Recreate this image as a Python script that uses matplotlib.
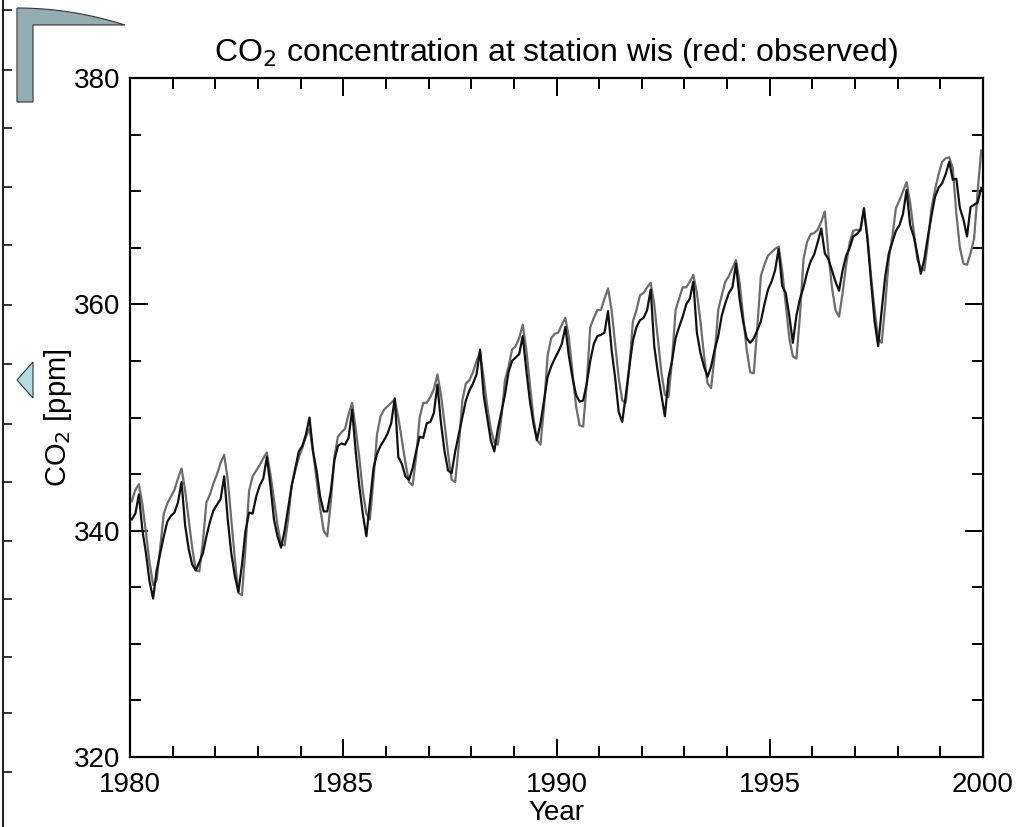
# CO2 at station wis: model (black) vs observed (grey), monthly 1980-1999
import matplotlib.pyplot as plt
import numpy as np
from matplotlib.patches import Polygon
from matplotlib.lines import Line2D
from matplotlib.ticker import MultipleLocator

plt.rcParams['font.family'] = ['Liberation Sans', 'DejaVu Sans']

years = list(range(1980, 2000))

# observed (drawn grey), 12 monthly values per year
obs = [
    [342.6, 343.6, 344.1, 342.3, 339.8, 337.2, 335.2, 335.6, 338.5, 341.5, 342.4, 343.0],
    [343.6, 344.6, 345.5, 343.6, 341.0, 338.5, 336.5, 336.4, 339.0, 342.5, 343.2, 344.2],
    [345.0, 346.0, 346.7, 344.5, 341.0, 337.5, 334.5, 334.3, 338.5, 343.5, 344.8, 345.3],
    [345.8, 346.4, 346.9, 345.0, 342.8, 340.5, 338.8, 338.7, 341.0, 344.0, 345.3, 346.5],
    [347.3, 348.3, 349.0, 347.0, 344.5, 342.0, 340.0, 339.5, 342.5, 346.5, 348.3, 348.7],
    [349.0, 350.3, 351.3, 349.0, 346.5, 343.5, 341.5, 341.0, 344.5, 348.5, 350.1, 350.7],
    [351.0, 351.3, 351.6, 350.0, 348.0, 346.0, 344.3, 344.0, 346.5, 350.0, 351.3, 351.3],
    [351.8, 352.5, 353.8, 352.0, 349.5, 346.8, 344.5, 344.3, 347.5, 351.5, 353.0, 353.3],
    [354.0, 355.0, 355.8, 353.5, 351.0, 349.0, 347.8, 347.6, 350.0, 353.3, 354.5, 356.0],
    [356.3, 357.0, 358.2, 356.0, 353.0, 350.0, 348.0, 347.6, 351.0, 355.5, 357.0, 357.4],
    [357.5, 358.2, 358.8, 357.0, 354.0, 351.0, 349.3, 349.2, 353.0, 358.0, 358.8, 359.5],
    [359.5, 360.5, 361.4, 359.5, 356.5, 353.5, 351.5, 351.3, 354.5, 358.5, 359.5, 360.8],
    [361.0, 361.5, 361.9, 360.0, 357.0, 354.0, 352.0, 351.8, 355.0, 359.5, 360.5, 361.5],
    [361.5, 362.0, 362.6, 361.0, 358.5, 355.5, 353.0, 352.6, 355.5, 359.5, 360.8, 362.0],
    [362.5, 363.2, 363.9, 362.0, 359.0, 356.0, 354.0, 353.9, 358.0, 362.5, 363.5, 364.3],
    [364.6, 364.9, 365.1, 363.0, 360.0, 357.0, 355.4, 355.2, 359.0, 364.0, 365.5, 366.2],
    [366.3, 366.6, 367.3, 368.2, 364.5, 361.5, 359.5, 358.9, 361.0, 363.5, 365.5, 366.5],
    [366.6, 366.5, 368.3, 366.0, 362.5, 359.5, 357.0, 356.6, 360.0, 364.0, 366.0, 368.5],
    [369.2, 370.0, 370.8, 369.0, 366.5, 364.0, 363.2, 363.0, 365.5, 368.5, 370.1, 371.5],
    [372.6, 372.9, 373.0, 372.0, 368.0, 365.0, 363.6, 363.5, 364.5, 365.8, 370.0, 373.6],
]

# model (drawn black)
model = [
    [341.0, 341.5, 343.2, 340.0, 338.0, 335.5, 334.0, 336.5, 338.0, 339.5, 340.8, 341.3],
    [341.6, 342.5, 344.3, 340.5, 338.4, 337.0, 336.5, 337.2, 338.0, 339.5, 340.8, 341.8],
    [342.3, 342.8, 344.8, 341.0, 338.0, 336.0, 334.6, 337.0, 340.0, 341.6, 341.5, 343.0],
    [344.0, 344.6, 346.5, 344.0, 341.0, 339.5, 338.5, 340.0, 342.0, 344.0, 345.5, 347.0],
    [347.5, 348.5, 350.0, 347.0, 345.3, 343.0, 341.7, 341.7, 343.5, 346.2, 347.5, 347.7],
    [347.6, 348.2, 350.7, 347.0, 344.0, 341.5, 339.5, 342.5, 345.5, 346.8, 347.5, 348.0],
    [348.6, 349.5, 351.7, 346.5, 345.9, 344.8, 344.5, 345.5, 347.0, 348.3, 348.2, 349.5],
    [349.6, 350.4, 352.9, 349.5, 347.0, 345.3, 345.1, 347.0, 348.5, 350.0, 351.5, 352.4],
    [353.0, 353.8, 356.0, 352.0, 350.0, 348.0, 347.0, 349.0, 350.5, 352.0, 354.0, 355.0],
    [355.3, 355.6, 357.2, 354.2, 351.5, 349.5, 348.0, 349.5, 351.5, 353.6, 354.5, 355.2],
    [355.8, 356.5, 358.0, 355.4, 353.5, 352.0, 351.4, 351.5, 353.0, 355.0, 356.5, 357.2],
    [357.3, 357.5, 359.4, 356.0, 353.5, 350.5, 349.6, 352.0, 354.5, 356.8, 358.0, 358.6],
    [358.8, 359.5, 361.3, 356.3, 354.0, 352.0, 350.1, 353.5, 355.0, 357.0, 358.0, 358.9],
    [360.0, 360.5, 362.0, 357.5, 355.7, 354.5, 353.6, 354.5, 356.0, 357.2, 359.0, 360.1],
    [361.0, 361.5, 363.6, 360.5, 358.5, 357.0, 356.6, 357.0, 357.7, 358.5, 360.0, 361.3],
    [362.0, 363.0, 364.9, 361.6, 361.0, 359.0, 356.6, 359.0, 360.5, 361.5, 362.8, 363.8],
    [364.4, 365.5, 366.7, 364.5, 364.0, 363.0, 362.0, 361.2, 363.0, 364.3, 365.0, 366.0],
    [366.2, 366.6, 368.5, 365.7, 362.0, 358.5, 356.3, 359.5, 362.5, 364.5, 365.5, 366.5],
    [367.0, 368.0, 370.1, 367.0, 366.0, 364.5, 362.7, 364.0, 366.0, 367.8, 369.5, 370.3],
    [370.7, 371.5, 372.6, 371.0, 371.1, 368.5, 367.5, 366.0, 368.6, 368.8, 369.0, 370.3],
]

# mid-month time axis
t = np.array([y + (m + 0.5) / 12 for y in years for m in range(12)])
obs_v = np.array(obs).ravel()
model_v = np.array(model).ravel()

fig = plt.figure(figsize=(10.32, 8.27), dpi=100)
ax = fig.add_axes([130 / 1032, 1 - 757 / 827, 853 / 1032, 679 / 827])

ax.plot(t, obs_v, color='#6c6c6c', lw=1.6)
ax.plot(t, model_v, color='#111111', lw=1.6)

ax.set_xlim(1980, 2000)
ax.set_ylim(320, 380)
ax.xaxis.set_major_locator(MultipleLocator(5))
ax.xaxis.set_minor_locator(MultipleLocator(1))
ax.yaxis.set_major_locator(MultipleLocator(20))
ax.yaxis.set_minor_locator(MultipleLocator(5))
ax.tick_params(which='both', direction='in', top=True, right=True, width=1.4,
               labelsize=20, pad=7)
ax.tick_params(axis='x', which='both', pad=11)
ax.tick_params(which='major', length=13)
ax.tick_params(which='minor', length=8)
for s in ax.spines.values():
    s.set_linewidth(1.6)

ax.set_title('CO$_2$ concentration at station wis (red: observed)', fontsize=23, pad=12)
ax.set_xlabel('Year', fontsize=20, labelpad=1)
ax.set_ylabel('CO$_2$ [ppm]', fontsize=21, labelpad=0)

# bits of the slide around the plot
fig.add_artist(Line2D([3 / 1032, 3 / 1032], [0, 1], color='#222222', lw=1.5))
for yp in [10, 70, 128, 187, 245, 305, 364, 424, 482, 541, 599, 657, 713, 772]:
    fig.add_artist(Line2D([3 / 1032, 11 / 1032], [1 - yp / 827, 1 - yp / 827],
                          color='#222222', lw=1.3))

arc_x = np.linspace(17, 125, 30)
arc_y = 8 + 17 * ((arc_x - 17) / 108) ** 2
corner = [(x, y) for x, y in zip(arc_x, arc_y)] + [(33, 25), (33, 102), (17, 102)]
fig.add_artist(Polygon([(x / 1032, 1 - y / 827) for x, y in corner], closed=True,
                       facecolor='#94adb0', edgecolor='#333333', lw=0.8))
tri = [(17, 380), (33, 362), (33, 398)]
fig.add_artist(Polygon([(x / 1032, 1 - y / 827) for x, y in tri], closed=True,
                       facecolor='#b3dde1', edgecolor='#333333', lw=0.8))

fig.savefig('out.png', dpi=100)
